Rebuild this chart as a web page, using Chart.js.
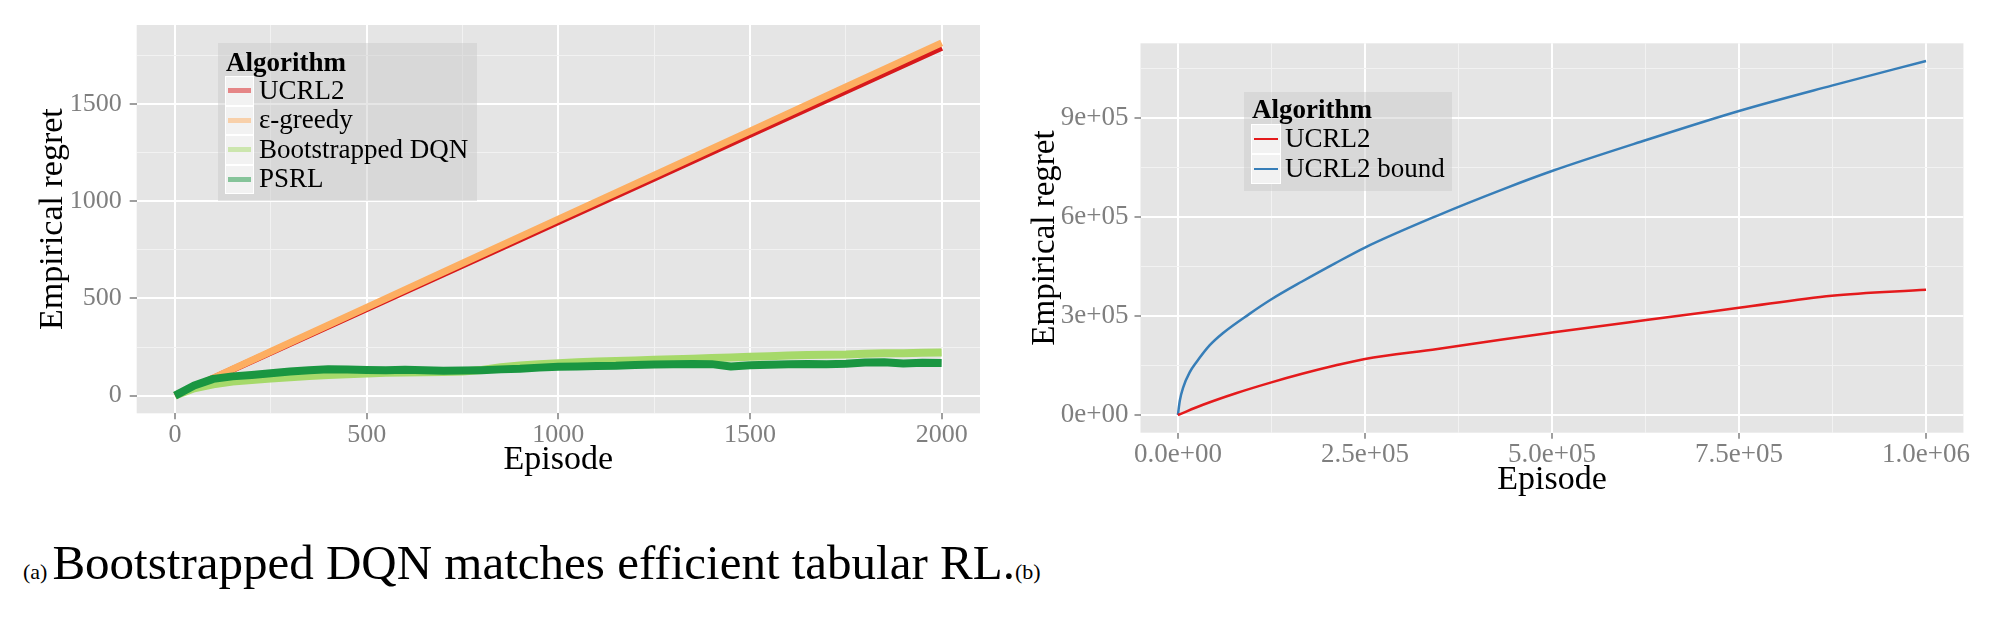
<!DOCTYPE html>
<html>
<head>
<meta charset="utf-8">
<script src="https://cdn.jsdelivr.net/npm/chart.js@4.4.1/dist/chart.umd.min.js"></script>
<style>
  body { margin: 0; width: 2000px; height: 627px; background: #fff; position: relative; overflow: hidden; font-family: "Liberation Serif", "Times New Roman", serif; }
  .panel { position: absolute; }
  .legend { position: absolute; background: rgba(200, 200, 200, 0.45); }
  .legend .title { position: absolute; font-weight: bold; font-size: 27px; line-height: 1; color: #000; white-space: nowrap; }
  .legend .key { position: absolute; background: #f2f2f2; border: 1px solid #fff; box-sizing: border-box; }
  .legend .key span { position: absolute; left: 2px; right: 2px; top: 50%; }
  .legend .label { position: absolute; font-size: 27px; line-height: 1; color: #000; white-space: nowrap; }
  .caption { position: absolute; left: 23px; top: 538px; font-size: 49px; line-height: 49px; color: #000; white-space: nowrap; }
  .caption small { font-size: 22px; }
</style>
</head>
<body>
<div class="panel" style="left:0;top:0;width:980px;height:480px"><canvas id="regretChart"></canvas></div>
<div class="panel" style="left:1000px;top:0;width:970px;height:500px"><canvas id="boundChart"></canvas></div>
<div id="leftLegend" class="legend" style="left:218px;top:43px;width:259px;height:158px"></div>
<div id="rightLegend" class="legend" style="left:1244px;top:92px;width:208px;height:99px"></div>
<div class="caption"><small style="margin-right:5px">(a)</small>Bootstrapped DQN matches efficient tabular RL.<small>(b)</small></div>

<script>
// ---------- left panel data (episodes vs empirical regret) ----------
const lineEpisodes = [0, 250, 500, 750, 1000, 1250, 1500, 1750, 2000];
const ucrl2Regret = [0, 224, 448, 672, 896, 1120, 1344, 1568, 1792];
const greedyRegret = [0, 227, 454, 681, 908, 1134, 1361, 1588, 1815];

const noisyEpisodes = [0, 50, 100, 150, 200, 250, 300, 350, 400, 450, 500, 550, 600, 650, 700, 750, 800, 850, 900, 950,
  1000, 1050, 1100, 1150, 1200, 1250, 1300, 1350, 1400, 1450, 1500, 1550, 1600, 1650, 1700, 1750, 1800, 1850, 1900, 1950, 2000];
const bdqnRegret = [0, 38, 58, 72, 80, 88, 95, 101, 106, 110, 114, 117, 119, 120, 121, 124, 132, 146, 155, 162,
  167, 172, 176, 178, 181, 184, 187, 190, 193, 196, 200, 203, 207, 209, 210, 211, 215, 218, 218, 220, 222];
const psrlRegret = [0, 52, 86, 99, 106, 115, 124, 131, 136, 134, 132, 131, 133, 131, 128, 129, 131, 135, 138, 144,
  149, 150, 153, 154, 158, 160, 161, 163, 162, 150, 156, 159, 161, 163, 162, 164, 170, 172, 165, 169, 168];

const leftNames = ["UCRL2", "ε-greedy", "Bootstrapped DQN", "PSRL"];
const leftColors = ["#d7191c", "#fdae61", "#a6d96a", "#1a9641"];
const leftKeyColors = ["rgba(215,25,28,0.5)", "rgba(253,174,97,0.5)", "rgba(166,217,106,0.5)", "rgba(26,150,65,0.5)"];

const leftXMajor = [0, 500, 1000, 1500, 2000];
const leftXMinor = [250, 750, 1250, 1750];
const leftYMajor = [0, 500, 1000, 1500];
const leftYMinor = [250, 750, 1250, 1750];

// ---------- right panel data ----------
const ucrlEpisodes = [0, 33500, 77600, 125000, 166000, 210000, 250000, 347000, 436000, 500000, 626000, 750000, 874000, 1000000];
const ucrlRegret = [0, 31000, 66000, 99000, 125000, 150000, 170000, 200000, 230000, 250000, 288000, 325000, 362000, 380000];
const boundEpisodes = [0, 2600, 7100, 15900, 24700, 42300, 60000, 95200, 125000, 166000, 210000, 250000, 347000, 436000,
  500000, 626000, 750000, 874000, 1000000];
const boundRegret = [0, 44000, 84000, 130000, 160000, 211000, 248000, 306000, 351000, 405000, 460000, 508000, 605000, 686000,
  740000, 834000, 922000, 999000, 1074000];

const rightNames = ["UCRL2", "UCRL2 bound"];
const rightColors = ["#e41a1c", "#377eb8"];

const rightXMajor = [0, 250000, 500000, 750000, 1000000];
const rightXLabels = ["0.0e+00", "2.5e+05", "5.0e+05", "7.5e+05", "1.0e+06"];
const rightXMinor = [125000, 375000, 625000, 875000];
const rightYMajor = [0, 300000, 600000, 900000];
const rightYLabels = ["0e+00", "3e+05", "6e+05", "9e+05"];
const rightYMinor = [150000, 450000, 750000, 1050000];

Chart.defaults.font.family = "'Liberation Serif', 'Times New Roman', serif";
Chart.defaults.animation = false;

// grey ggplot-like panel
const panelBg = {
  id: "panelBg",
  beforeDraw(chart) {
    const { ctx, chartArea } = chart;
    ctx.save();
    ctx.fillStyle = "#e5e5e5";
    ctx.fillRect(chartArea.left, chartArea.top, chartArea.width, chartArea.height);
    ctx.restore();
  }
};

function toPoints(xs, ys) {
  return xs.map((x, i) => ({ x: x, y: ys[i] }));
}

// builds a ggplot-ish axis: major + minor grid, labels only on majors
function ggAxis(opts) {
  const major = opts.major, labels = opts.labels;
  const isMajor = (v) => major.indexOf(v) !== -1;
  return {
    type: "linear",
    min: opts.min,
    max: opts.max,
    border: { display: false },
    afterBuildTicks: (axis) => {
      axis.ticks = major.concat(opts.minor).sort((a, b) => a - b).map((v) => ({ value: v }));
    },
    afterFit: (scale) => {
      if (opts.size.width) scale.width = opts.size.width;
      if (opts.size.height) scale.height = opts.size.height;
    },
    grid: {
      color: (c) => (isMajor(c.tick.value) ? "#ffffff" : "#f2f2f2"),
      lineWidth: (c) => (isMajor(c.tick.value) ? 2 : 1),
      drawTicks: true,
      tickLength: opts.tickLength,
      tickWidth: 1.5,
      tickColor: (c) => (isMajor(c.tick.value) ? "#7f7f7f" : "rgba(0,0,0,0)")
    },
    ticks: {
      autoSkip: false,
      maxRotation: 0,
      padding: opts.padding,
      color: "#7f7f7f",
      font: { size: opts.tickFont },
      callback: (v) => {
        const i = major.indexOf(v);
        return i === -1 ? "" : labels[i];
      }
    },
    title: {
      display: true,
      text: opts.title,
      color: "#000",
      font: { size: opts.titleFont },
      padding: opts.titlePadding
    }
  };
}

// ---------- left chart ----------
new Chart(document.getElementById("regretChart").getContext("2d"), {
  type: "line",
  data: {
    datasets: [
      { label: leftNames[0], data: toPoints(lineEpisodes, ucrl2Regret), borderColor: leftColors[0], borderWidth: 7, order: 4 },
      { label: leftNames[1], data: toPoints(lineEpisodes, greedyRegret), borderColor: leftColors[1], borderWidth: 7, order: 3 },
      { label: leftNames[2], data: toPoints(noisyEpisodes, bdqnRegret), borderColor: leftColors[2], borderWidth: 8, order: 2 },
      { label: leftNames[3], data: toPoints(noisyEpisodes, psrlRegret), borderColor: leftColors[3], borderWidth: 8, order: 1 }
    ]
  },
  options: {
    responsive: true,
    maintainAspectRatio: false,
    layout: { padding: { top: 25, left: 0, right: 0, bottom: 0 } },
    elements: { point: { radius: 0 }, line: { tension: 0, borderJoinStyle: "round" } },
    plugins: { legend: { display: false }, tooltip: { enabled: false } },
    scales: {
      x: ggAxis({ min: -100, max: 2100, major: leftXMajor, labels: leftXMajor.map(String), minor: leftXMinor,
        size: { height: 66.7 }, tickLength: 6, padding: 0, tickFont: 26, title: "Episode", titleFont: 34,
        titlePadding: { top: 0, bottom: 0 } }),
      y: ggAxis({ min: -91, max: 1907, major: leftYMajor, labels: leftYMajor.map(String), minor: leftYMinor,
        size: { width: 136.7 }, tickLength: 7, padding: 8, tickFont: 26, title: "Empirical regret", titleFont: 34,
        titlePadding: { top: 33, bottom: 0 } })
    }
  },
  plugins: [panelBg]
});

// ---------- right chart ----------
new Chart(document.getElementById("boundChart").getContext("2d"), {
  type: "line",
  data: {
    datasets: [
      { label: rightNames[0], data: toPoints(ucrlEpisodes, ucrlRegret), borderColor: rightColors[0], borderWidth: 2.5 },
      { label: rightNames[1], data: toPoints(boundEpisodes, boundRegret), borderColor: rightColors[1], borderWidth: 2.5 }
    ]
  },
  options: {
    responsive: true,
    maintainAspectRatio: false,
    layout: { padding: { top: 43.3, left: 0, right: 0, bottom: 0 } },
    elements: { point: { radius: 0 }, line: { cubicInterpolationMode: "monotone" } },
    plugins: { legend: { display: false }, tooltip: { enabled: false } },
    scales: {
      x: ggAxis({ min: -50000, max: 1050000, major: rightXMajor, labels: rightXLabels, minor: rightXMinor,
        size: { height: 67.3 }, tickLength: 6, padding: 0, tickFont: 27, title: "Episode", titleFont: 34,
        titlePadding: { top: 0, bottom: 0 } }),
      y: ggAxis({ min: -53700, max: 1127500, major: rightYMajor, labels: rightYLabels, minor: rightYMinor,
        size: { width: 140.5 }, tickLength: 6, padding: 6, tickFont: 27, title: "Empirical regret", titleFont: 33,
        titlePadding: { top: 26, bottom: 0 } })
    }
  },
  plugins: [panelBg]
});

// ---------- ggplot-style legends (html text) ----------
function buildLegend(el, names, colors, lineH, layout) {
  const t = document.createElement("div");
  t.className = "title";
  t.textContent = "Algorithm";
  t.style.left = layout.titleLeft + "px";
  t.style.top = layout.titleTop + "px";
  el.appendChild(t);
  names.forEach((name, i) => {
    const top = layout.keyTop + i * layout.rowH;
    const key = document.createElement("div");
    key.className = "key";
    key.style.left = layout.keyLeft + "px";
    key.style.top = top + "px";
    key.style.width = layout.keyW + "px";
    key.style.height = layout.rowH + "px";
    const sw = document.createElement("span");
    sw.style.height = lineH + "px";
    sw.style.marginTop = (-lineH / 2) + "px";
    sw.style.background = colors[i];
    key.appendChild(sw);
    el.appendChild(key);
    const lab = document.createElement("div");
    lab.className = "label";
    lab.textContent = name;
    lab.style.left = layout.labelLeft + "px";
    lab.style.top = (top + layout.rowH / 2 - 14) + "px";
    el.appendChild(lab);
  });
}

buildLegend(document.getElementById("leftLegend"), leftNames, leftKeyColors, 5,
  { titleLeft: 8, titleTop: 6, keyLeft: 7, keyTop: 33, keyW: 29, rowH: 29.5, labelLeft: 41 });
buildLegend(document.getElementById("rightLegend"), rightNames, rightColors, 2.5,
  { titleLeft: 8, titleTop: 4, keyLeft: 7, keyTop: 32, keyW: 30, rowH: 30, labelLeft: 41 });
</script>
</body>
</html>
